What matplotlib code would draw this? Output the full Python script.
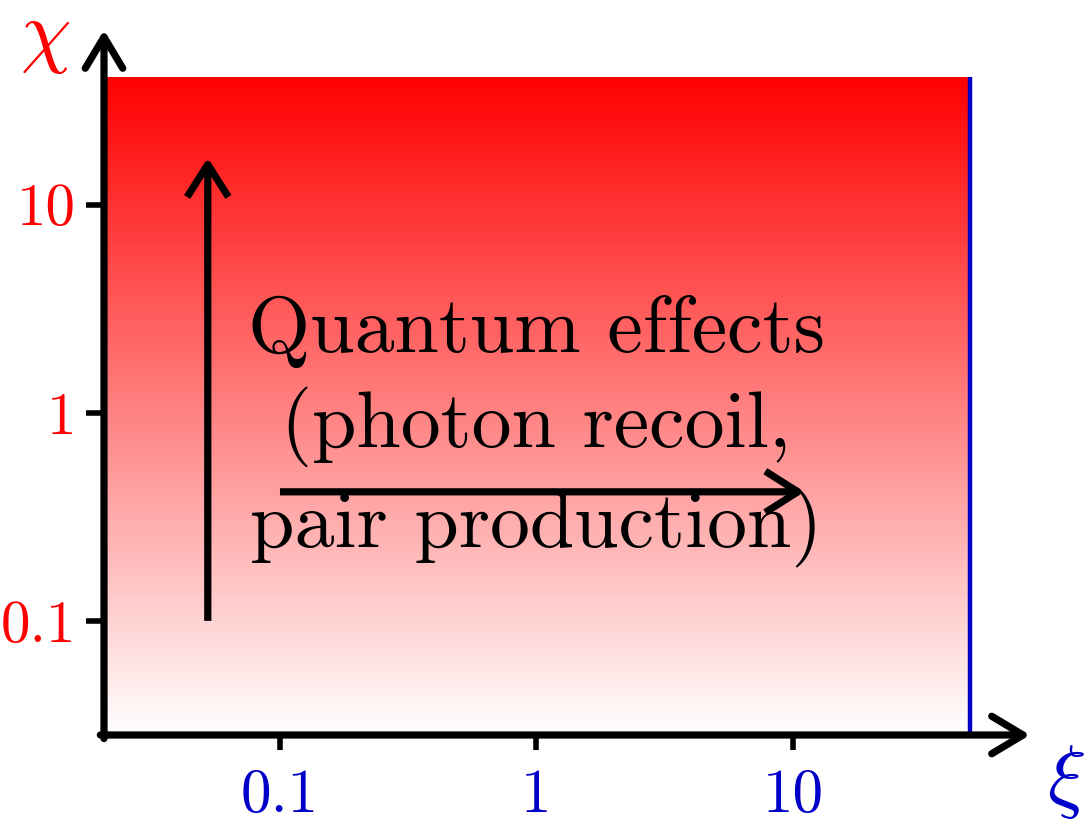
import numpy as np
import matplotlib
matplotlib.use("Agg")
import matplotlib.pyplot as plt
from matplotlib.colors import LinearSegmentedColormap

plt.rcParams['mathtext.fontset'] = 'cm'

# ---- data ----
xi_ticks = [0.1, 1, 10]
xi_ticklabels = ['0.1', '1', '10']
chi_ticks = [0.1, 1, 10]
chi_ticklabels = ['0.1', '1', '10']
xi_limits = [0.0206, 84]
chi_limits = [0.0283, 69]
region_xi = [0.0206, 49]
region_chi = [0.0283, 41]
vert_arrow_xi = [0.0523, 0.0523]
vert_arrow_chi = [0.1, 16.8]
horiz_arrow_xi = [0.1, 11.1]
horiz_arrow_chi = [0.417, 0.417]
label_text = "Quantum effects\n(photon recoil,\npair production)"
label_pos = [1.0, 0.82]

RED = '#ff0000'
BLUE = '#0000c8'

fig = plt.figure(figsize=(10.9, 8.22), dpi=100)
ax = fig.add_axes([104/1090, (822-735)/822, (1030-104)/1090, (735-30)/822])
ax.set_xscale('log')
ax.set_yscale('log')
for s in ax.spines.values():
    s.set_visible(False)
ax.patch.set_alpha(0)

# gradient region: white at bottom -> red at top, linear on the log axis
cmap = LinearSegmentedColormap.from_list('wr', ['#ffffff', RED])
n = 400
y_edges = np.logspace(np.log10(region_chi[0]), np.log10(region_chi[1]), n + 1)
x_edges = np.array(region_xi)
frac = (np.arange(n) + 0.5) / n
ax.pcolormesh(x_edges, y_edges, frac.reshape(-1, 1), cmap=cmap,
              vmin=0, vmax=1, shading='flat', zorder=0, rasterized=True,
              edgecolors='none', antialiased=False)
ax.set_xlim(*xi_limits)
ax.set_ylim(*chi_limits)

# blue boundary
ax.plot([region_xi[1], region_xi[1]], region_chi, color=BLUE, lw=3.2,
        solid_capstyle='butt', zorder=2)

# axis arrows
astyle = dict(arrowstyle='->,head_length=0.5,head_width=0.3', lw=5.2,
              color='black', mutation_scale=45, capstyle='round',
              joinstyle='round', shrinkA=0, shrinkB=0)
ax.annotate('', xy=(1, 0), xytext=(-0.004, 0), xycoords='axes fraction',
            textcoords='axes fraction', arrowprops=astyle, zorder=5,
            annotation_clip=False)
ax.annotate('', xy=(0, 1), xytext=(0, -0.005), xycoords='axes fraction',
            textcoords='axes fraction', arrowprops=astyle, zorder=5,
            annotation_clip=False)

# inner arrows
istyle = dict(arrowstyle='->,head_length=0.52,head_width=0.33', lw=5.2,
              color='black', mutation_scale=45, capstyle='butt',
              joinstyle='round', shrinkA=0, shrinkB=0)
ax.annotate('', xy=(vert_arrow_xi[1], vert_arrow_chi[1]),
            xytext=(vert_arrow_xi[0], vert_arrow_chi[0]), arrowprops=istyle, zorder=4)
ax.annotate('', xy=(horiz_arrow_xi[1], horiz_arrow_chi[1]),
            xytext=(horiz_arrow_xi[0], horiz_arrow_chi[0]), arrowprops=istyle, zorder=4)

# text
ax.text(label_pos[0], label_pos[1], label_text, family='cmr10', fontsize=57.5,
        ha='center', va='center', multialignment='center', linespacing=1.32,
        color='black', zorder=3)

# ticks
ax.set_xticks(xi_ticks)
ax.set_xticklabels(xi_ticklabels)
ax.set_yticks(chi_ticks)
ax.set_yticklabels(chi_ticklabels)
ax.minorticks_off()
ax.tick_params(axis='x', which='major', length=11, width=4, direction='out',
               pad=13, labelsize=44, labelcolor=BLUE, color='black')
ax.tick_params(axis='y', which='major', length=13, width=4, direction='out',
               pad=7, labelsize=42.5, labelcolor=RED, color='black')
for lab in ax.get_xticklabels() + ax.get_yticklabels():
    lab.set_family('cmr10')

# axis labels
fig.text(45/1090, 1 - 37/822, r'$\chi$', color=RED, fontsize=58,
         ha='center', va='center')
fig.text(1066/1090, 1 - 782/822, r'$\xi$', color=BLUE, fontsize=58,
         ha='center', va='center')

fig.savefig('out.png', dpi=100)
